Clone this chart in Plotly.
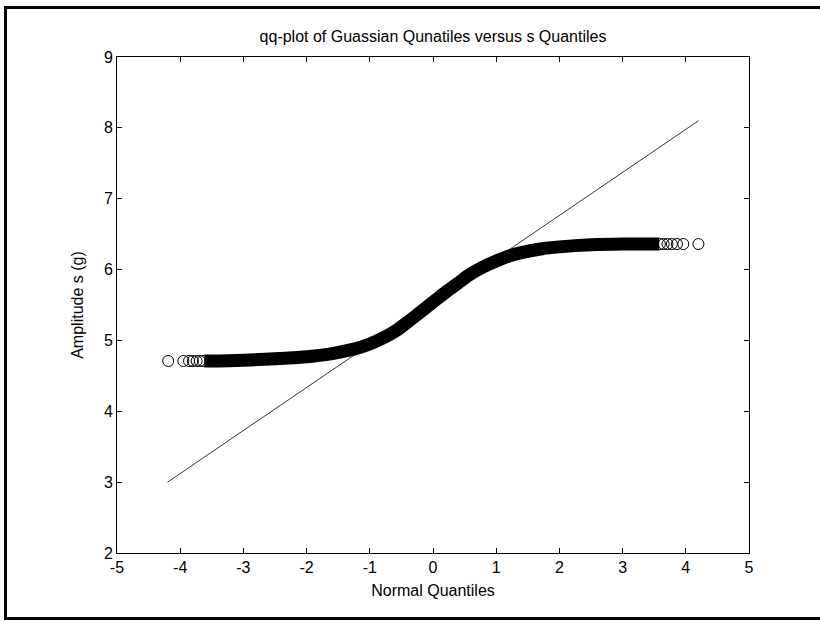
import plotly.graph_objects as go

# Bande dense des quantiles
band_x = [-3.62, -3.4, -3.0, -2.5, -2.0, -1.7, -1.4, -1.2, -1.0, -0.8, -0.6, -0.4, -0.2,
          0.0, 0.2, 0.4, 0.6, 0.8, 1.0, 1.2, 1.4, 1.7, 2.0, 2.5, 3.0, 3.58]
band_y = [4.71, 4.71, 4.72, 4.74, 4.77, 4.80, 4.85, 4.89, 4.95, 5.03, 5.13, 5.26, 5.40,
          5.54, 5.68, 5.81, 5.94, 6.04, 6.12, 6.19, 6.24, 6.29, 6.32, 6.35, 6.36, 6.36]

# Cercles isolés aux extrémités
tail_x = [-4.19, -3.95, -3.86, -3.80, -3.74, -3.69, -3.64,
          3.59, 3.65, 3.71, 3.78, 3.86, 3.96, 4.20]
tail_y = [4.71, 4.71, 4.71, 4.71, 4.71, 4.71, 4.71,
          6.36, 6.36, 6.36, 6.36, 6.36, 6.36, 6.36]

# Droite de référence
ref_x = [-4.2, 4.2]
ref_y = [3.0, 8.1]

# Graduations (tiret court comme dans l'original)
x_ticks = [-5, -4, -3, -2, -1, 0, 1, 2, 3, 4, 5]
x_labels = ["-5", "-4", "-3", "-2", "-1", "0", "1", "2", "3", "4", "5"]
y_ticks = [2, 3, 4, 5, 6, 7, 8, 9]
y_labels = ["2", "3", "4", "5", "6", "7", "8", "9"]

font = "Liberation Sans, Arial, sans-serif"
fs = 16

fig = go.Figure()
fig.add_trace(go.Scatter(x=band_x, y=band_y, mode="lines",
                         line=dict(color="black", width=13, shape="spline"), hoverinfo="skip"))
fig.add_trace(go.Scatter(x=tail_x, y=tail_y, mode="markers",
                         marker=dict(symbol="circle-open", size=11, color="black", line=dict(width=1))))
fig.add_trace(go.Scatter(x=ref_x, y=ref_y, mode="lines", line=dict(color="black", width=0.8)))

# Cadre noir de la fenêtre (gauche, haut, bas)
pl, pr, pt, pb = 117, 749, 57, 553
def px(p):
    return (p - pl) / (pr - pl)
def py(q):
    return (pb - q) / (pb - pt)

fig.add_shape(type="rect", xref="paper", yref="paper",
              x0=px(5.5), x1=px(830), y0=py(7.5), y1=py(618.5),
              line=dict(color="black", width=3), layer="above")

fig.update_layout(
    width=820, height=621,
    margin=dict(l=pl, r=820 - pr, t=pt, b=621 - pb),
    paper_bgcolor="white", plot_bgcolor="white",
    showlegend=False,
    font=dict(family=font, size=fs, color="black"),
    title=dict(text="qq-plot of Guassian Qunatiles versus s Quantiles",
               x=px(433), xref="paper", xanchor="center",
               y=1 - 36 / 621, yref="container", yanchor="middle",
               font=dict(size=fs)),
)
axis_style = dict(showline=True, linecolor="black", linewidth=1, mirror="allticks",
                  ticks="inside", ticklen=5, tickcolor="black", tickwidth=1,
                  showgrid=False, zeroline=False, tickfont=dict(size=fs))
fig.update_xaxes(range=[-5, 5], tickmode="array", tickvals=x_ticks, ticktext=x_labels,
                 title=dict(text="Normal Quantiles", standoff=9, font=dict(size=fs)), **axis_style)
fig.update_yaxes(range=[2, 9], tickmode="array", tickvals=y_ticks, ticktext=y_labels,
                 title=dict(text="Amplitude s (g)", standoff=16, font=dict(size=fs)), **axis_style)

fig.write_html("out.html", config={"displayModeBar": False},
               post_script="document.body.style.margin='0';")
